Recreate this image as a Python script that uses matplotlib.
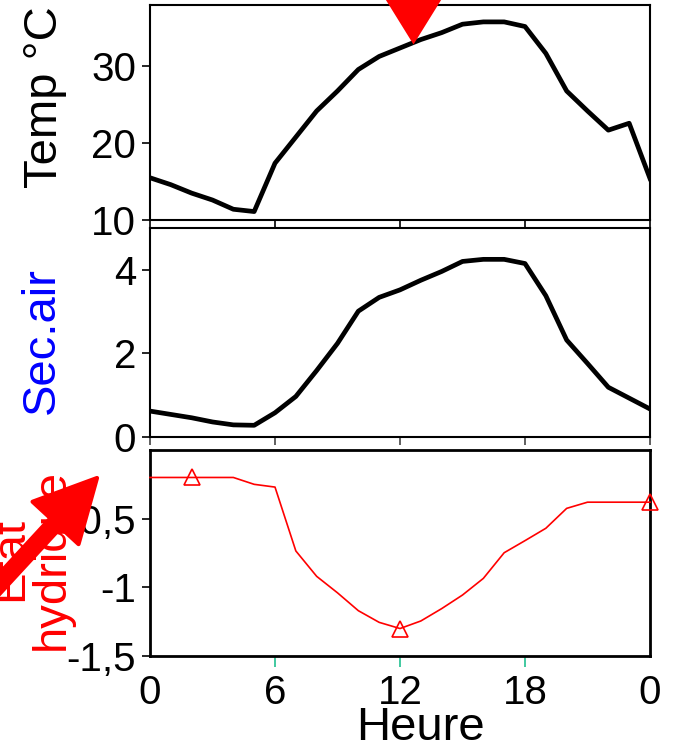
import matplotlib
matplotlib.use('Agg')
import matplotlib.pyplot as plt
from matplotlib.patches import FancyArrowPatch

plt.rcParams['font.family'] = ['Liberation Sans', 'DejaVu Sans']

# ---------------- data ----------------
heures = list(range(25))
temp = [15.5, 14.6, 13.5, 12.6, 11.4, 11.1, 17.4, 20.8, 24.2, 26.8, 29.6, 31.3, 32.4,
        33.5, 34.4, 35.5, 35.8, 35.8, 35.2, 31.7, 26.8, 24.2, 21.7, 22.6, 15.4]
sec_air = [0.62, 0.54, 0.46, 0.36, 0.29, 0.28, 0.58, 0.97, 1.59, 2.24, 3.01, 3.34, 3.52,
           3.75, 3.96, 4.20, 4.25, 4.25, 4.15, 3.38, 2.32, 1.76, 1.19, 0.93, 0.67]
etat = [-0.20, -0.20, -0.20, -0.20, -0.20, -0.25, -0.27, -0.735, -0.92, -1.04, -1.17, -1.255, -1.30,
        -1.245, -1.155, -1.056, -0.935, -0.748, -0.66, -0.57, -0.425, -0.38, -0.38, -0.38, -0.38]
marq_idx = [2, 12, 24]
pic_heure = [12.6]
pic_temp = [32.9]

xticks = [0, 6, 12, 18, 24]
xticklabels = ['0', '6', '12', '18', '0']
temp_ticks = [10, 20, 30]
sec_ticks = [0, 2, 4]
etat_ticks = [-1.5, -1.0, -0.5]
etat_labels = ['-1,5', '-1', '-0,5']

W, H = 678, 751
fig = plt.figure(figsize=(W / 100, H / 100), dpi=100)

def rect(x0, x1, y0, y1):
    return [x0 / W, 1 - y1 / H, (x1 - x0) / W, (y1 - y0) / H]

ax1 = fig.add_axes(rect(150, 650, 5, 220))
ax2 = fig.add_axes(rect(150, 650, 228, 437))
ax3 = fig.add_axes(rect(150, 650, 450, 656))

TICK_FS = 29
LAB_FS = 34

for ax in (ax1, ax2, ax3):
    ax.set_xlim(0, 24)
    ax.set_xticks(xticks)
    ax.tick_params(axis='both', direction='out', length=6, width=1.2, pad=4,
                   labelsize=TICK_FS, top=False, right=False)

# top panel
ax1.plot(heures, temp, color='black', lw=3.4, solid_joinstyle='round')
ax1.plot(pic_heure, pic_temp, linestyle='none', color='red', clip_on=False, zorder=5,
         marker=[(0, 0), (-0.62, 1), (0.62, 1), (0, 0)], markersize=100, markeredgewidth=0)
ax1.set_ylim(10, 38)
ax1.set_yticks(temp_ticks)
ax1.set_xticklabels([])
for s in ax1.spines.values():
    s.set_linewidth(1.5)

# middle panel
ax2.plot(heures, sec_air, color='black', lw=3.4, solid_joinstyle='round')
ax2.set_ylim(0, 5)
ax2.set_yticks(sec_ticks)
ax2.set_xticklabels([])
ax2.tick_params(axis='x', color='#444444')
for s in ax2.spines.values():
    s.set_linewidth(1.5)

# bottom panel
ax3.plot(heures, etat, color='red', lw=1.2, marker='^', markevery=marq_idx,
         markersize=11, markerfacecolor='none', markeredgecolor='red',
         markeredgewidth=1.2, clip_on=False, zorder=4)
ax3.set_ylim(-1.5, 0)
ax3.set_yticks(etat_ticks)
ax3.set_yticklabels(etat_labels)
ax3.set_xticklabels(xticklabels)
ax3.tick_params(axis='x', color='#20c090', length=8, pad=5)
mt = ax3.xaxis.get_major_ticks()
mt[0].tick1line.set_visible(False)
mt[-1].tick1line.set_visible(False)
for s in ax3.spines.values():
    s.set_linewidth(2)

# labels
fig.text(45 / W, 1 - 97 / H, 'Temp °C', rotation=90, ha='center', va='center',
         fontsize=LAB_FS, color='black')
fig.text(42 / W, 1 - 341 / H, 'Sec.air', rotation=90, ha='center', va='center',
         fontsize=LAB_FS, color='blue')
fig.text(31 / W, 1 - 559 / H, 'Etat\nhydrique', rotation=90, ha='center', va='center',
         fontsize=34, color='red', linespacing=0.95, multialignment='center')
fig.text(420 / W, 1 - 728 / H, 'Heure', ha='center', va='center',
         fontsize=LAB_FS, color='black')

# big red arrow
arrow = FancyArrowPatch(posA=(-10 / W, 1 - 594 / H), posB=(97 / W, 1 - 478 / H),
                        transform=fig.transFigure,
                        arrowstyle='simple,head_length=44,head_width=45,tail_width=10',
                        mutation_scale=1, shrinkA=0, shrinkB=0,
                        facecolor='red', edgecolor='red', linewidth=3,
                        joinstyle='round', zorder=10)
fig.add_artist(arrow)

fig.savefig('out.png', dpi=100)
